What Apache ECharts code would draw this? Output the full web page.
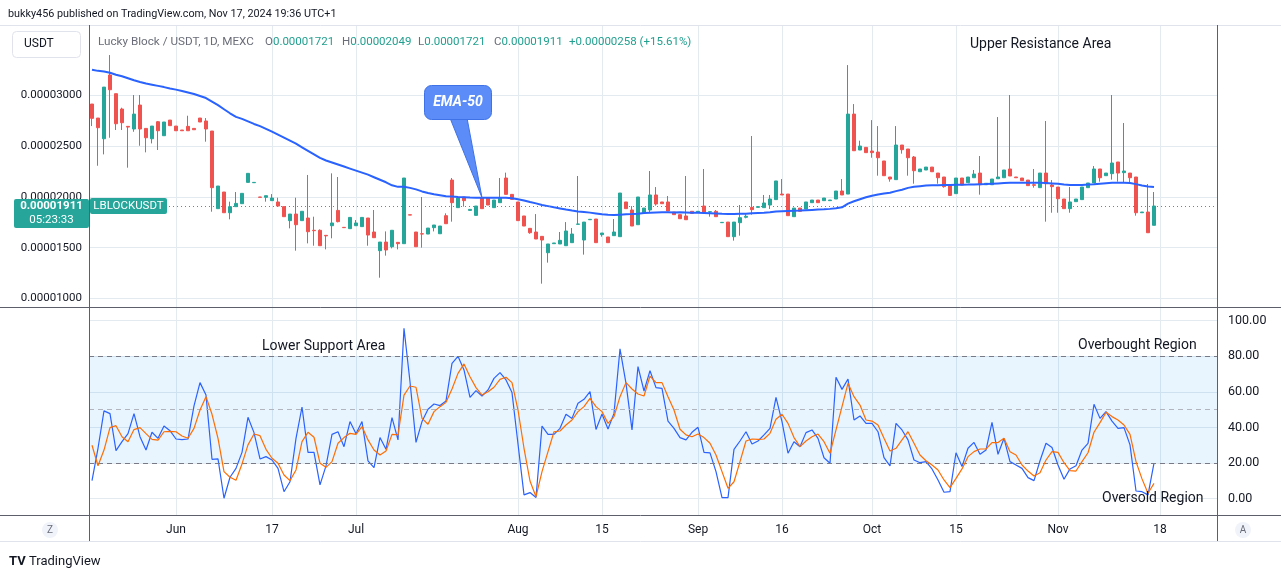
<!DOCTYPE html>
<html><head><meta charset="utf-8">
<script src="https://cdn.jsdelivr.net/npm/echarts@6/dist/echarts.min.js"></script>
<style>html,body{margin:0;padding:0;background:#fff}#c{width:1281px;height:579px}</style>
</head><body><div id="c"></div>
<script>
// ---------- DATA ----------
const startDate = '2024-05-18';
const endDate = '2024-11-27';
const missingDays = ['2024-07-06','2024-07-13','2024-07-20','2024-07-27','2024-08-25','2024-09-08'];
const tickLabels = {'2024-06-01':'Jun','2024-06-17':'17','2024-07-01':'Jul','2024-08-01':'Aug','2024-08-15':'15',
  '2024-09-01':'Sep','2024-09-16':'16','2024-10-01':'Oct','2024-10-15':'15','2024-11-01':'Nov','2024-11-18':'18'};
// price in units of 1e-5 USDT : [open, close, low, high]
const ohlc = [
[2.916,2.775,2.699,2.916],[2.778,2.683,2.308,2.778],[2.574,3.083,2.420,3.083],[3.202,3.057,2.584,3.399],
[3.018,2.722,2.660,3.018],[2.867,2.732,2.660,2.880],[2.696,2.689,2.289,2.699],[2.670,2.817,2.643,3.005],
[2.906,2.670,2.505,3.005],[2.676,2.584,2.440,2.676],[2.574,2.699,2.528,2.699],[2.742,2.653,2.463,2.749],
[2.604,2.739,2.604,2.739],[2.758,2.703,2.703,2.758],[2.699,2.653,2.653,2.699],[2.660,2.653,2.653,2.660],
[2.696,2.653,2.653,2.801],[2.676,2.663,2.663,2.676],[2.778,2.739,2.739,2.778],[2.749,2.670,2.545,2.778],
[2.650,2.092,1.855,2.650],[1.885,2.108,1.885,2.108],[2.049,1.845,1.845,2.049],[1.845,1.905,1.780,1.954],
[1.905,1.937,1.905,2.049],[1.934,2.036,1.934,2.036],[2.144,2.233,2.144,2.233],[2.141,2.144,2.141,2.144],
[2.000,1.997,1.997,2.000],[1.997,2.013,1.954,2.013],[1.964,1.990,1.964,2.029],[1.951,1.911,1.911,1.993],
[1.905,1.806,1.806,1.905],[1.767,1.832,1.691,1.832],[1.832,1.727,1.471,1.993],[1.767,1.859,1.767,1.859],
[1.793,1.658,1.543,2.217],[1.672,1.668,1.520,1.806],[1.672,1.520,1.520,1.681],[1.622,1.617,1.484,1.622],
[1.717,1.744,1.593,2.233],[1.868,1.757,1.750,2.197],[1.701,1.698,1.698,1.701],[1.688,1.799,1.688,1.799],
[1.717,1.744,1.717,1.773],[1.708,1.799,1.708,1.799],[1.793,1.625,1.520,1.793],[1.655,1.599,1.599,1.872],
[1.471,1.556,1.205,1.556],[1.556,1.478,1.422,1.661],[1.510,1.672,1.494,1.672],[1.553,1.540,1.484,1.553],
[1.540,2.187,1.540,2.187],[1.825,1.822,1.822,1.825],[1.655,1.510,1.510,1.655],[1.638,1.635,1.501,2.000],
[1.635,1.694,1.635,1.694],[1.698,1.724,1.661,1.724],[1.638,1.714,1.638,1.714],[1.816,1.737,1.737,1.839],
[2.167,1.944,1.757,2.187],[1.895,1.990,1.895,1.990],[2.000,1.964,1.905,2.000],[1.868,1.878,1.868,1.878],
[1.819,1.911,1.819,1.911],[1.993,1.885,1.885,1.993],[1.993,1.921,1.921,1.993],[1.895,1.970,1.895,1.970],
[1.944,1.990,1.944,2.187],[2.187,2.026,2.026,2.240],[2.026,1.977,1.977,2.026],[1.951,1.767,1.767,1.951],
[1.813,1.714,1.714,1.813],[1.691,1.648,1.638,1.691],[1.655,1.586,1.586,1.832],[1.612,1.576,1.146,1.612],
[1.451,1.537,1.353,1.537],[1.540,1.547,1.540,1.547],[1.537,1.573,1.537,1.655],[1.520,1.665,1.520,1.753],
[1.550,1.635,1.550,1.694],[1.731,1.734,1.731,2.207],[1.576,1.753,1.432,1.753],[1.776,1.780,1.776,1.780],
[1.783,1.550,1.550,1.783],[1.629,1.645,1.609,1.645],[1.606,1.550,1.550,1.606],[1.619,1.655,1.619,1.783],
[1.609,2.039,1.609,2.039],[1.951,1.885,1.885,1.951],[1.872,1.714,1.714,1.911],[1.727,2.000,1.727,2.000],
[1.845,1.891,1.845,1.891],[1.872,2.020,1.845,2.256],[2.020,1.931,1.915,2.098],[1.951,1.934,1.934,1.951],
[1.951,1.862,1.862,2.010],[1.852,1.826,1.826,1.852],[1.826,1.786,1.786,1.826],[1.813,1.776,1.776,2.207],
[1.859,1.839,1.839,1.859],[1.852,1.859,1.852,1.859],[1.911,1.852,1.852,2.276],[1.852,1.855,1.806,1.855],
[1.859,1.806,1.806,1.872],[1.747,1.750,1.747,1.750],[1.753,1.609,1.609,1.753],[1.609,1.753,1.570,1.753],
[1.747,1.796,1.619,1.921],[1.800,1.810,1.790,1.830],[1.898,1.875,1.826,2.601],[1.898,1.905,1.898,1.905],
[1.895,1.941,1.895,2.020],[1.921,1.980,1.882,2.020],[1.974,2.158,1.974,2.158],[2.029,2.020,2.020,2.177],
[2.029,1.816,1.816,2.029],[1.806,1.891,1.806,1.891],[1.891,1.859,1.859,1.891],[1.882,1.951,1.882,1.951],
[1.944,1.970,1.944,1.970],[1.970,1.944,1.944,1.970],[1.964,1.990,1.964,1.990],[1.964,1.970,1.964,1.970],
[1.980,2.059,1.980,2.059],[2.059,2.020,2.020,2.177],[2.029,2.817,2.029,3.300],[2.817,2.456,2.456,2.916],
[2.463,2.502,2.463,2.555],[2.489,2.437,2.437,2.489],[2.453,2.437,2.387,2.758],[2.443,2.387,2.210,2.699],
[2.355,2.210,2.210,2.355],[2.197,2.177,2.151,2.197],[2.171,2.512,2.171,2.699],[2.512,2.466,2.427,2.512],
[2.473,2.387,2.210,2.473],[2.394,2.259,2.131,2.404],[2.249,2.276,2.249,2.276],[2.266,2.295,2.266,2.295],
[2.295,2.249,2.249,2.295],[2.236,2.190,2.131,2.236],[2.197,2.102,2.092,2.197],[2.115,2.016,2.010,2.115],
[2.033,2.187,2.033,2.187],[2.187,2.118,2.118,2.187],[2.141,2.197,2.141,2.197],[2.190,2.226,2.190,2.266],
[2.236,2.121,2.023,2.404],[2.121,2.135,2.121,2.135],[2.121,2.177,2.121,2.177],[2.180,2.197,2.180,2.788],
[2.190,2.266,2.190,2.266],[2.276,2.207,2.207,3.005],[2.197,2.190,2.190,2.197],[2.187,2.161,2.161,2.187],
[2.167,2.112,2.112,2.167],[2.121,2.115,2.092,2.276],[2.092,2.236,2.092,2.236],[2.236,2.131,1.757,2.749],
[2.118,2.102,1.845,2.167],[2.098,1.983,1.845,2.098],[1.980,1.885,1.885,1.980],[1.885,1.951,1.845,2.098],
[1.954,1.980,1.954,1.980],[1.974,2.098,1.974,2.098],[2.092,2.138,2.092,2.138],[2.138,2.276,2.138,2.305],
[2.276,2.190,2.151,2.276],[2.210,2.236,2.210,2.236],[2.230,2.335,2.171,3.005],[2.345,2.236,2.151,2.345],
[2.240,2.256,2.141,2.729],[2.236,2.190,2.141,2.236],[2.197,1.845,1.816,2.197],[1.845,1.852,1.845,1.852],
[1.852,1.648,1.648,2.128],[1.721,1.911,1.721,2.049]
];
const ema50 = [
3.255,3.243,3.236,3.225,3.205,3.190,3.170,3.150,3.133,3.118,3.107,3.095,3.083,3.070,3.058,3.045,3.030,3.015,2.995,2.975,
2.940,2.905,2.865,2.825,2.790,2.770,2.745,2.720,2.698,2.672,2.645,2.615,2.585,2.555,2.525,2.490,2.455,2.420,2.385,2.360,
2.340,2.320,2.300,2.280,2.260,2.240,2.220,2.195,2.170,2.145,2.115,2.100,2.100,2.090,2.075,2.055,2.040,2.028,2.018,2.008,
2.005,2.000,1.998,1.995,1.993,1.993,1.993,1.992,1.992,1.993,1.988,1.978,1.965,1.950,1.937,1.922,1.910,1.898,1.887,1.876,
1.866,1.858,1.852,1.846,1.838,1.830,1.824,1.822,1.826,1.830,1.832,1.836,1.842,1.846,1.848,1.849,1.849,1.848,1.849,1.848,
1.846,1.844,1.842,1.840,1.838,1.834,1.832,1.832,1.834,1.836,1.840,1.843,1.846,1.850,1.856,1.860,1.862,1.864,1.866,1.870,
1.873,1.876,1.879,1.883,1.890,1.898,1.935,1.958,1.978,1.997,2.012,2.025,2.035,2.042,2.058,2.072,2.090,2.100,2.107,2.113,
2.115,2.117,2.118,2.118,2.120,2.121,2.122,2.124,2.126,2.128,2.131,2.134,2.137,2.140,2.141,2.141,2.141,2.141,2.141,2.138,
2.134,2.130,2.124,2.119,2.118,2.119,2.122,2.126,2.131,2.136,2.140,2.141,2.141,2.139,2.127,2.114,2.104,2.098
];
const stochK = [
10.1,28.3,49.3,47.8,27.0,32.0,36.5,47.8,34.8,27.3,37.3,33.9,40.8,38.2,33.5,33.2,33.5,52.1,65.2,58.2,
22.1,22.3,0.2,12.0,17.0,26.0,45.7,37.1,22.3,23.6,21.7,17.0,3.9,9.5,33.9,51.5,26.0,26.0,7.7,18.4,
36.1,37.6,29.2,43.3,36.5,43.3,21.2,17.4,34.3,27.7,45.5,33.0,95.7,65.7,31.6,43.3,50.2,53.2,52.3,54.9,
76.0,80.0,72.3,56.9,60.7,57.7,61.1,67.6,70.8,66.7,59.6,30.7,2.1,3.4,0.6,40.8,36.1,36.1,39.5,47.4,
45.1,53.6,55.8,60.1,38.9,47.6,39.1,47.9,84.2,64.8,38.6,74.2,60.5,71.9,62.4,62.0,43.6,39.5,34.3,33.0,
37.3,40.1,26.0,25.7,15.2,0.6,0.6,27.7,32.4,37.6,30.7,32.4,35.8,39.5,56.9,43.3,25.5,32.0,29.2,37.1,
38.6,33.9,23.0,19.9,68.2,61.4,67.2,44.2,46.5,42.3,42.3,37.6,23.0,18.4,42.3,38.6,33.0,21.7,20.2,20.8,
16.7,10.5,3.6,3.9,25.8,18.0,28.3,31.6,24.9,27.3,42.9,24.9,33.9,20.8,18.9,17.0,11.8,10.1,21.3,31.1,
28.7,18.9,10.9,16.7,18.5,27.3,31.1,53.0,45.1,48.9,43.6,39.5,39.9,30.2,4.3,3.9,2.1,19.9
];
const stochD = [
30.0,18.5,27.3,39.9,41.0,34.8,32.0,38.8,39.9,36.5,33.3,32.9,37.6,37.8,37.6,35.2,33.9,39.5,49.8,57.3,
47.4,33.9,15.2,12.0,10.3,19.5,30.2,36.3,35.4,27.7,22.7,19.9,13.3,10.1,16.1,32.0,37.3,34.5,19.9,17.6,
20.8,31.1,34.3,36.7,36.1,40.5,33.0,27.3,24.5,26.8,36.1,35.8,58.2,63.3,62.6,45.1,41.8,48.9,51.7,54.1,
61.6,70.4,75.7,68.5,62.4,58.2,60.1,62.6,67.0,68.2,65.2,49.8,28.3,9.9,1.1,15.2,26.4,37.6,38.0,41.4,
44.2,48.9,51.7,56.4,51.7,48.9,42.3,46.1,57.3,65.2,61.6,58.8,57.7,68.9,65.2,65.2,57.3,49.8,39.0,35.8,
34.8,36.3,34.3,31.1,24.5,15.2,5.8,9.5,20.8,32.4,33.5,33.3,33.5,36.7,44.6,47.4,42.3,34.3,29.2,32.4,
34.8,36.3,32.0,25.5,38.6,51.7,64.8,57.3,52.6,44.2,43.6,41.4,33.9,26.8,28.3,33.0,37.6,31.1,24.5,21.3,
18.9,16.1,10.5,6.2,11.4,16.7,23.6,26.4,27.9,27.9,31.5,31.5,33.9,26.4,24.5,18.9,15.5,12.7,14.6,21.7,
26.4,26.0,20.2,15.7,15.5,20.8,25.8,37.3,42.7,48.5,46.1,44.2,41.4,36.1,20.8,11.1,3.0,8.6
];
const priceTicks = [1.0, 1.5, 2.0, 2.5, 3.0];
const oscTicks = [0, 20, 40, 60, 80, 100];
const oscLevels = {overbought: 80, middle: 50, oversold: 20};

// ---------- BUILD ----------
const categories = [];
for (let d = new Date(startDate + 'T00:00:00Z'); d <= new Date(endDate + 'T00:00:00Z'); d.setUTCDate(d.getUTCDate() + 1)) {
  const s = d.toISOString().slice(0, 10);
  if (!missingDays.includes(s)) categories.push(s);
}
const isTick = (idx, val) => tickLabels[val] !== undefined;
const FONT = "Roboto,'Noto Sans',sans-serif";
const gridColor = '#e3eaf0';
const UP = '#26a69a', DOWN = '#ef5350';
const fmtPrice = v => (v * 1e-5).toFixed(8);

const chart = echarts.init(document.getElementById('c'), null, {renderer: 'canvas'});
const option = {
  animation: false,
  backgroundColor: '#ffffff',
  grid: [
    {left: 89, right: 64, top: 25, height: 282},
    {left: 89, right: 64, top: 307, height: 208}
  ],
  xAxis: [
    {type: 'category', gridIndex: 0, data: categories, boundaryGap: true,
     axisLine: {show: false}, axisTick: {show: false, alignWithLabel: true, interval: isTick}, axisLabel: {show: false, interval: isTick},
     splitLine: {show: true, interval: isTick, alignWithLabel: true, lineStyle: {color: gridColor, width: 1}}},
    {type: 'category', gridIndex: 1, data: categories, boundaryGap: true,
     axisLine: {show: false}, axisTick: {show: false, alignWithLabel: true, interval: isTick},
     axisLabel: {show: true, interval: isTick, formatter: v => tickLabels[v] || '', color: '#131722', fontSize: 12, fontFamily: FONT, margin: 9},
     splitLine: {show: true, interval: isTick, alignWithLabel: true, lineStyle: {color: gridColor, width: 1}}}
  ],
  yAxis: [
    {type: 'value', gridIndex: 0, position: 'left', min: 0.916, max: 3.695,
     axisLine: {show: false}, axisTick: {show: false, customValues: priceTicks},
     axisLabel: {customValues: priceTicks, formatter: fmtPrice, color: '#131722', fontSize: 11.5, fontFamily: FONT, margin: 7},
     splitLine: {show: true, lineStyle: {color: gridColor, width: 1}}},
    {type: 'value', gridIndex: 1, position: 'right', min: -9.2, max: 107.7,
     axisLine: {show: false}, axisTick: {show: false, customValues: oscTicks},
     axisLabel: {customValues: oscTicks, formatter: v => v.toFixed(2), color: '#131722', fontSize: 12.5, fontFamily: FONT, margin: 11},
     splitLine: {show: true, lineStyle: {color: gridColor, width: 1}}}
  ],
  series: [
    {type: 'candlestick', name: 'LBLOCKUSDT', xAxisIndex: 0, yAxisIndex: 0, data: ohlc, barWidth: 4,
     itemStyle: {color: UP, color0: DOWN, borderColor: UP, borderColor0: DOWN, borderWidth: 1},
     markLine: {silent: true, symbol: ['none', 'none'], label: {show: false},
       lineStyle: {color: UP, type: [1, 3], width: 1}, data: [{yAxis: ohlc[ohlc.length - 1][1]}]}},
    {type: 'line', name: 'EMA-50', xAxisIndex: 0, yAxisIndex: 0, data: ema50, showSymbol: false, z: 4,
     lineStyle: {color: '#2962ff', width: 2}},
    {type: 'line', name: '%K', xAxisIndex: 1, yAxisIndex: 1, data: stochK, showSymbol: false, z: 4,
     lineStyle: {color: '#2962ff', width: 1.2},
     markArea: {silent: true, itemStyle: {color: 'rgba(33,150,243,0.1)'},
       data: [[{yAxis: oscLevels.oversold}, {yAxis: oscLevels.overbought}]]},
     markLine: {silent: true, symbol: ['none', 'none'], label: {show: false},
       data: [
         {yAxis: oscLevels.overbought, lineStyle: {color: '#787b86', type: [5, 4], width: 1}},
         {yAxis: oscLevels.middle, lineStyle: {color: '#b2b5be', type: [5, 4], width: 1}},
         {yAxis: oscLevels.oversold, lineStyle: {color: '#787b86', type: [5, 4], width: 1}}
       ]}},
    {type: 'line', name: '%D', xAxisIndex: 1, yAxisIndex: 1, data: stochD, showSymbol: false, z: 5,
     lineStyle: {color: '#ff6d00', width: 1.2}}
  ]
};
chart.setOption(option);

// ---------- ANNOTATIONS ----------
const last = ohlc[ohlc.length - 1];
const yLast = chart.convertToPixel({yAxisIndex: 0}, last[1]);
const tip = chart.convertToPixel({xAxisIndex: 0, yAxisIndex: 0}, [categories[65], ema50[65]]);
const line = (x1, y1, x2, y2, c) => ({type: 'line', silent: true, z: 50, shape: {x1, y1, x2, y2}, style: {stroke: c, lineWidth: 1}});
const txt = (x, y, text, o, z) => ({type: 'text', silent: true, z: z || 60, x, y,
  style: Object.assign({text, fill: '#131722', fontSize: 12, fontFamily: FONT, align: 'left', verticalAlign: 'middle'}, o || {})});
const ohlcTxt = (x, key, val) => ({type: 'text', silent: true, z: 60, x, y: 42,
  style: {text: '{k|' + key + '}{v|' + val + '}', verticalAlign: 'middle', fontFamily: FONT, fontSize: 11.5,
    rich: {k: {fill: '#6a6d78', fontFamily: FONT, fontSize: 11.5}, v: {fill: '#22a08f', fontFamily: FONT, fontSize: 11.5}}}});
const elements = [
  line(0, 25.5, 1281, 25.5, '#e0e3eb'),
  line(89.5, 25, 89.5, 541, '#5d606b'),
  line(1217.5, 25, 1217.5, 541, '#5d606b'),
  line(0, 307.5, 1281, 307.5, '#5d606b'),
  line(0, 515.5, 1281, 515.5, '#5d606b'),
  line(0, 541.5, 1281, 541.5, '#e0e3eb'),
  txt(8, 14, 'bukky456 published on TradingView.com, Nov 17, 2024 19:36 UTC+1', {fontSize: 10.8}),
  {type: 'rect', silent: true, z: 55, shape: {x: 12.5, y: 31.5, width: 68, height: 26, r: 4}, style: {fill: '#fff', stroke: '#e0e3eb'}},
  txt(24, 44, 'USDT', {fontSize: 12}),
  txt(98, 42, 'Lucky Block / USDT, 1D, MEXC', {fill: '#6a6d78', fontSize: 11.7}),
  ohlcTxt(265, 'O', '0.00001721'),
  ohlcTxt(342, 'H', '0.00002049'),
  ohlcTxt(418, 'L', '0.00001721'),
  ohlcTxt(494, 'C', '0.00001911'),
  txt(569, 42, '+0.00000258 (+15.61%)', {fill: '#22a08f', fontSize: 11.5}),
  txt(970, 44, 'Upper Resistance Area', {fontSize: 14}),
  txt(262, 346, 'Lower Support Area', {fontSize: 14}),
  txt(1078, 345, 'Overbought Region', {fontSize: 14}),
  txt(1102, 498, 'Oversold Region', {fontSize: 14}),
  // EMA-50 callout
  {type: 'polygon', silent: true, z: 70, shape: {points: [[450, 118], [467, 118], [tip[0], tip[1]]]},
   style: {fill: '#5b8cf7', stroke: '#3f72e6', lineWidth: 1}},
  {type: 'rect', silent: true, z: 71, shape: {x: 424.5, y: 85.5, width: 67, height: 34, r: 7},
   style: {fill: '#5b8cf7', stroke: '#3f72e6', lineWidth: 1}},
  {type: 'text', silent: true, z: 72, x: 458, y: 102.5,
   style: {text: 'EMA-50', fill: '#ffffff', fontSize: 14, fontStyle: 'italic', fontWeight: 'bold', fontFamily: FONT, align: 'center', verticalAlign: 'middle'}},
  // last price labels
  {type: 'rect', silent: true, z: 75, shape: {x: 14, y: yLast - 7, width: 75, height: 29, r: 2}, style: {fill: UP}},
  txt(51.5, yLast + 0.5, '0.00001911', {fill: '#fff', align: 'center', fontWeight: 'bold', fontSize: 11.5}, 80),
  txt(51.5, yLast + 14.5, '05:23:33', {fill: '#fff', align: 'center', fontSize: 11.5}, 80),
  {type: 'rect', silent: true, z: 75, shape: {x: 90, y: yLast - 8, width: 77, height: 16, r: 2}, style: {fill: UP}},
  txt(128.5, yLast + 0.5, 'LBLOCKUSDT', {fill: '#fff', align: 'center', fontSize: 11.5}, 80),
  // Z / A buttons
  {type: 'circle', silent: true, z: 55, shape: {cx: 50, cy: 530, r: 8}, style: {fill: '#f0f3fa'}},
  txt(50, 530.5, 'Z', {align: 'center', fontSize: 10, fill: '#6a6d78'}, 61),
  {type: 'circle', silent: true, z: 55, shape: {cx: 1243, cy: 530, r: 8}, style: {fill: '#f0f3fa'}},
  txt(1243, 530.5, 'A', {align: 'center', fontSize: 10, fill: '#6a6d78'}, 61),
  // TradingView logo
  txt(9, 562, 'TV', {fontWeight: 'bold', fontSize: 13, fill: '#131722'}),
  txt(29, 562, 'TradingView', {fontSize: 13, fill: '#131722'})
];
chart.setOption({graphic: {elements}});
</script>
</body></html>
